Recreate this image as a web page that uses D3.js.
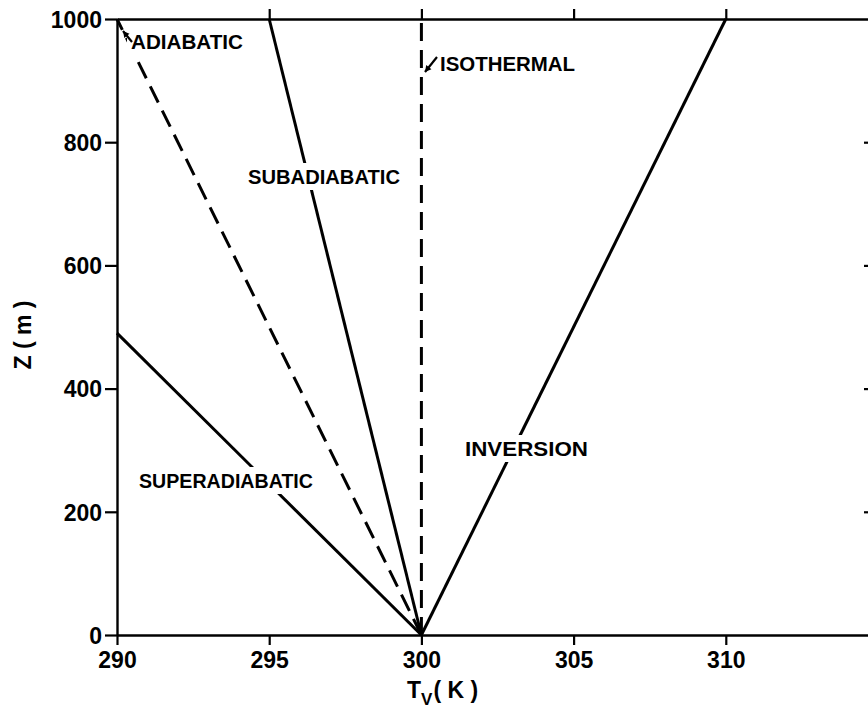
<!DOCTYPE html>
<html>
<head>
<meta charset="utf-8">
<script src="https://cdn.jsdelivr.net/npm/d3@7"></script>
<style>
  html, body { margin: 0; padding: 0; background: #fff; }
  svg { display: block; }
  text { font-family: "Liberation Sans", Arial, sans-serif; fill: #000; font-weight: bold; }
</style>
</head>
<body>
<svg id="chart" width="868" height="709"></svg>
<script>
// ---- data ----
const xTicks = [290, 295, 300, 305, 310];
const yTicks = [0, 200, 400, 600, 800, 1000];
const profileNames = ["SUPERADIABATIC", "ADIABATIC", "SUBADIABATIC", "ISOTHERMAL", "INVERSION"];
const surfaceT = [300, 300, 300, 300, 300];
const surfaceZ = [0, 0, 0, 0, 0];
const topT = [290, 290, 295, 300, 310];
const topZ = [490, 1000, 1000, 1000, 1000];
const dashed = [false, true, false, true, false];
const xTitle = "T";
const xTitleSub = "V";
const xTitleUnit = "( K )";
const yTitle = "Z ( m )";

// ---- layout ----
const svg = d3.select("#chart");
const x = d3.scaleLinear().domain([290, 315]).range([117, 878]);
const y = d3.scaleLinear().domain([0, 1000]).range([635, 19]);

const axisStyle = g => {
  g.selectAll(".domain").attr("stroke", "#000").attr("stroke-width", 2.4);
  g.selectAll(".tick line").attr("stroke", "#000").attr("stroke-width", 2.2);
};

svg.append("g").attr("transform", `translate(0,${y(0)})`)
  .call(d3.axisBottom(x).tickValues(xTicks).tickSize(10).tickSizeOuter(0).tickFormat(d3.format("d")).tickPadding(6))
  .call(axisStyle)
  .call(g => g.selectAll(".tick text").attr("font-size", 23).attr("dy", "0.72em"));

svg.append("g").attr("transform", `translate(0,${y(1000)})`)
  .call(d3.axisTop(x).tickValues(xTicks.slice(1)).tickSize(10).tickSizeOuter(0).tickFormat(""))
  .call(axisStyle);

svg.append("g").attr("transform", `translate(${x(290)},0)`)
  .call(d3.axisLeft(y).tickValues(yTicks).tickSize(12).tickSizeOuter(0).tickFormat(d3.format("d")).tickPadding(3))
  .call(axisStyle)
  .call(g => g.selectAll(".tick text").attr("font-size", 23).attr("dy", "0.36em"));

svg.append("g").attr("transform", `translate(${x(315)},0)`)
  .call(d3.axisRight(y).tickValues(yTicks.slice(1, -1)).tickSize(-14).tickSizeOuter(0).tickFormat(""))
  .call(axisStyle);

// profile lines
const profiles = profileNames.map((n, i) => ({
  name: n, dashed: dashed[i],
  pts: [[surfaceT[i], surfaceZ[i]], [topT[i], topZ[i]]]
}));
const line = d3.line().x(d => x(d[0])).y(d => y(d[1]));
svg.append("g").selectAll("path").data(profiles).join("path")
  .attr("d", d => line(d.pts))
  .attr("fill", "none")
  .attr("stroke", "#000")
  .attr("stroke-width", 3)
  .attr("stroke-dasharray", d => d.dashed ? "18,9" : null);

// labels (with white backing that breaks the lines)
const labelPos = {
  SUPERADIABATIC: { x: 139, y: 488, w: 174 },
  ADIABATIC: { x: 131, y: 49, w: 112 },
  SUBADIABATIC: { x: 248, y: 184, w: 152 },
  ISOTHERMAL: { x: 440, y: 71, w: 135 },
  INVERSION: { x: 465, y: 456, w: 123 }
};
const lg = svg.append("g");
profiles.forEach(p => {
  const L = labelPos[p.name];
  lg.append("rect").attr("x", L.x - 4).attr("y", L.y - 21).attr("width", L.w + 8).attr("height", 27).attr("fill", "#fff");
  lg.append("text").attr("x", L.x).attr("y", L.y)
    .attr("font-size", 21).attr("textLength", L.w).attr("lengthAdjust", "spacingAndGlyphs")
    .text(p.name);
});

// small pointer arrows
function arrow(x1, y1, x2, y2) {
  svg.append("line").attr("x1", x1).attr("y1", y1).attr("x2", x2).attr("y2", y2)
    .attr("stroke", "#000").attr("stroke-width", 2.2);
  const a = Math.atan2(y2 - y1, x2 - x1), s = 7;
  const p1 = [x2 - s * Math.cos(a - 0.5), y2 - s * Math.sin(a - 0.5)];
  const p2 = [x2 - s * Math.cos(a + 0.5), y2 - s * Math.sin(a + 0.5)];
  svg.append("path").attr("d", `M${x2},${y2}L${p1}L${p2}Z`).attr("fill", "#000");
}
arrow(132, 42, 123, 31);
arrow(437, 57, 425, 72);

// axis titles
const xt = svg.append("text").attr("x", 407).attr("y", 698).attr("font-size", 23);
xt.append("tspan").text(xTitle);
xt.append("tspan").attr("font-size", 17).attr("dy", 7).text(xTitleSub);
xt.append("tspan").attr("dy", -7).attr("dx", 1).text(xTitleUnit);

svg.append("text")
  .attr("transform", `translate(31,335) rotate(-90)`)
  .attr("text-anchor", "middle").attr("font-size", 23)
  .text(yTitle);
</script>
</body>
</html>
